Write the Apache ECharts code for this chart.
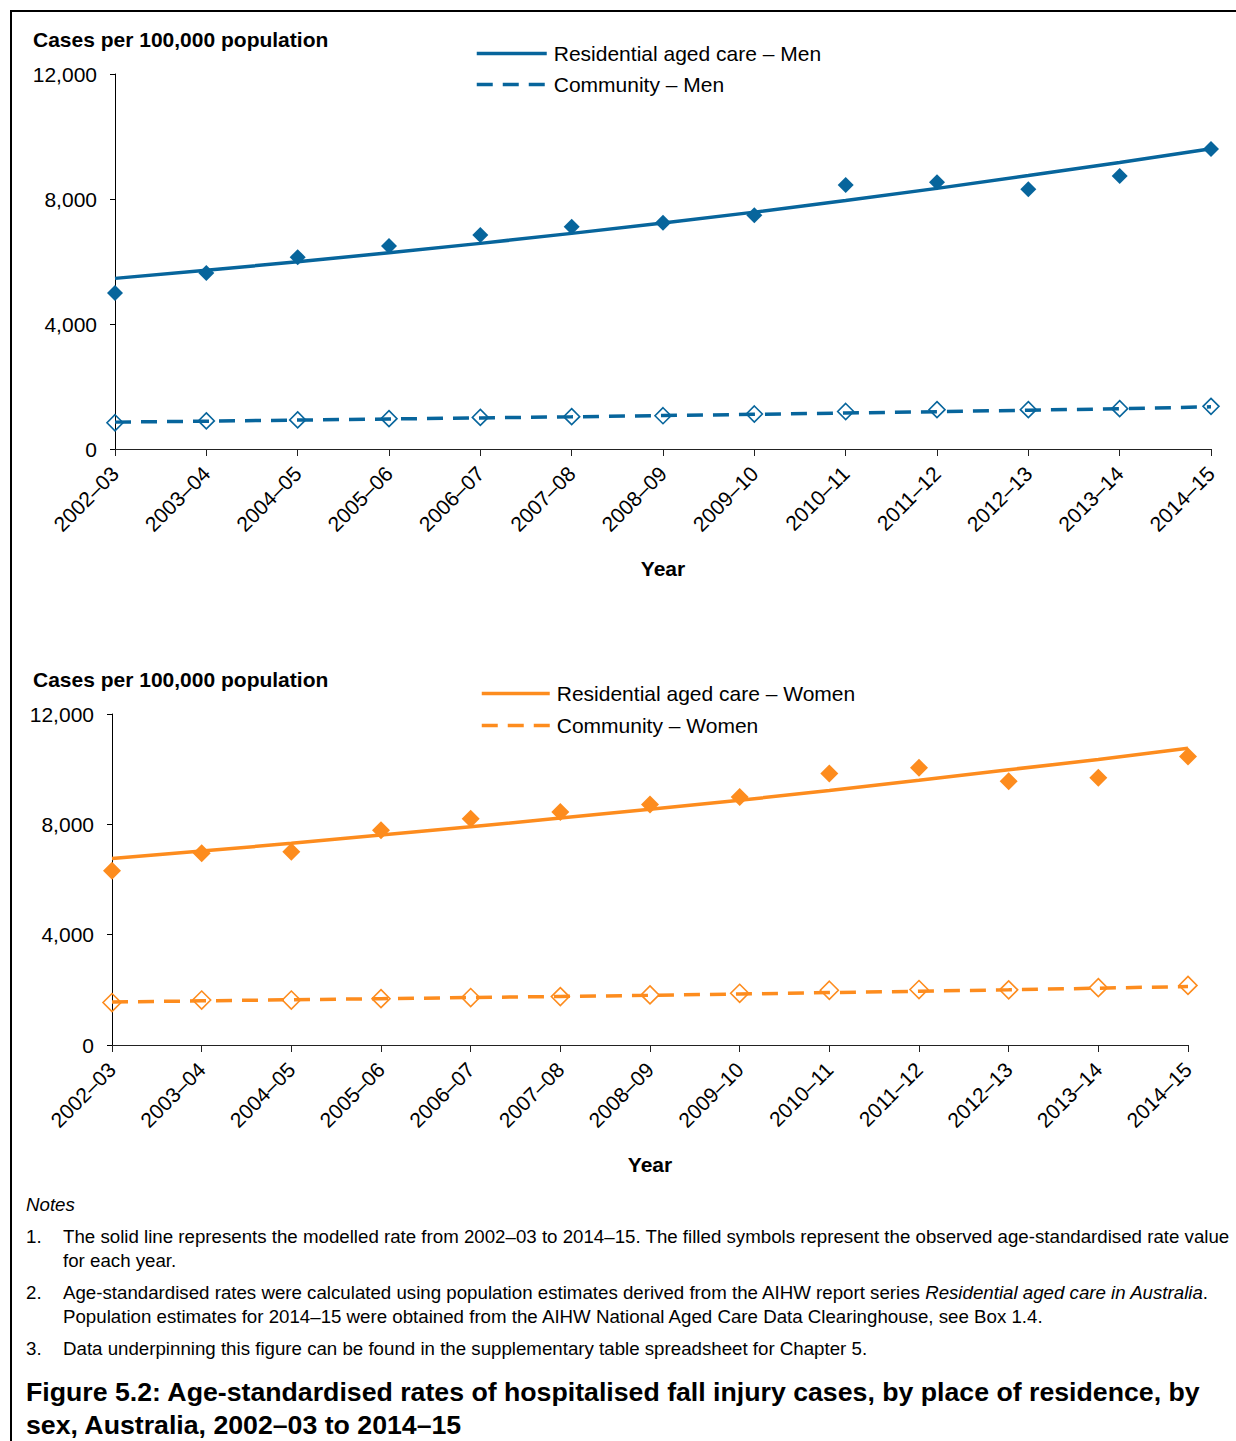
<!DOCTYPE html>
<html>
<head>
<meta charset="utf-8">
<script src="https://cdn.jsdelivr.net/npm/echarts@6/dist/echarts.min.js"></script>
<style>
  html, body { margin: 0; padding: 0; background: #fff; }
  body { width: 1236px; height: 1441px; position: relative; overflow: hidden; font-family: "Liberation Sans", Arial, sans-serif; color: #000; }
  #frame { position: absolute; left: 10px; top: 10px; width: 1240px; height: 1450px; border-left: 2px solid #000; border-top: 2px solid #000; }
  #chart { position: absolute; left: 0; top: 0; width: 1236px; height: 1190px; }
  .ln { position: absolute; white-space: nowrap; font-size: 18.7px; line-height: 20px; }
  .num { position: absolute; left: 26px; }
  .ttl { position: absolute; left: 26px; white-space: nowrap; font-weight: bold; font-size: 26.7px; line-height: 30px; }
</style>
</head>
<body>
<div id="frame"></div>
<div id="chart"></div>
<div class="ln" style="left:26px; top:1195px; font-style:italic;">Notes</div>
<div class="ln num" style="top:1227px;">1.</div>
<div class="ln" style="left:63px; top:1227px;">The solid line represents the modelled rate from 2002–03 to 2014–15. The filled symbols represent the observed age-standardised rate value</div>
<div class="ln" style="left:63px; top:1251px;">for each year.</div>
<div class="ln num" style="top:1283px;">2.</div>
<div class="ln" style="left:63px; top:1283px;">Age-standardised rates were calculated using population estimates derived from the AIHW report series <i>Residential aged care in Australia</i>.</div>
<div class="ln" style="left:63px; top:1307px;">Population estimates for 2014–15 were obtained from the AIHW National Aged Care Data Clearinghouse, see Box 1.4.</div>
<div class="ln num" style="top:1339px;">3.</div>
<div class="ln" style="left:63px; top:1339px;">Data underpinning this figure can be found in the supplementary table spreadsheet for Chapter 5.</div>
<div class="ttl" style="top:1377px;">Figure 5.2: Age-standardised rates of hospitalised fall injury cases, by place of residence, by</div>
<div class="ttl" style="top:1410px;">sex, Australia, 2002–03 to 2014–15</div>
<script>
const years = ['2002–03','2003–04','2004–05','2005–06','2006–07','2007–08','2008–09','2009–10','2010–11','2011–12','2012–13','2013–14','2014–15'];
const yTicks = [0, 4000, 8000, 12000];

const menResObserved = [4990, 5630, 6140, 6500, 6850, 7110, 7240, 7480, 8450, 8540, 8310, 8740, 9600];
const menResModelled = [5460, 5720, 5990, 6280, 6580, 6900, 7230, 7580, 7950, 8340, 8750, 9170, 9610];
const menComObserved = [840, 900, 930, 970, 1010, 1035, 1065, 1120, 1200, 1260, 1260, 1290, 1365];
const menComModelled = [860, 890, 925, 960, 995, 1030, 1070, 1110, 1150, 1195, 1240, 1290, 1350];

const womenResObserved = [6320, 6950, 7010, 7790, 8200, 8450, 8720, 8990, 9840, 10050, 9560, 9690, 10460];
const womenResModelled = [6760, 7030, 7310, 7610, 7910, 8230, 8550, 8870, 9230, 9600, 9980, 10350, 10760];
const womenComObserved = [1540, 1630, 1630, 1680, 1720, 1755, 1815, 1875, 1985, 2010, 2000, 2080, 2160];
const womenComModelled = [1560, 1600, 1640, 1680, 1720, 1760, 1800, 1850, 1900, 1950, 2000, 2060, 2120];

const BLUE = '#07659c';
const ORANGE = '#fd8c1e';
const FONT = 'Liberation Sans';

const chart = echarts.init(document.getElementById('chart'), null, { renderer: 'svg' });

function xAxisCfg(gi) {
  return {
    type: 'category', gridIndex: gi, data: years, boundaryGap: false,
    name: 'Year', nameLocation: 'middle', nameGap: 109,
    nameTextStyle: { fontFamily: FONT, fontSize: 21, fontWeight: 'bold', color: '#000' },
    axisLine: { lineStyle: { color: '#222', width: 1 } },
    axisTick: { show: true, length: 7, alignWithLabel: true, lineStyle: { color: '#222' } },
    axisLabel: { rotate: 45, fontFamily: FONT, fontSize: 21, color: '#000', margin: 21, interval: 0 },
    splitLine: { show: false }
  };
}
function yAxisCfg(gi) {
  return {
    type: 'value', gridIndex: gi, min: yTicks[0], max: yTicks[yTicks.length - 1], interval: 4000,
    axisLine: { show: true, lineStyle: { color: '#000', width: 1 } },
    axisTick: { show: true, length: 5, lineStyle: { color: '#000' } },
    axisLabel: { fontFamily: FONT, fontSize: 21, color: '#000', margin: 18,
      formatter: v => v.toLocaleString('en-US') },
    splitLine: { show: false }
  };
}
function seriesSet(gi, color, resName, comName, resMod, resObs, comMod, comObs, size) {
  return [
    { name: resName, type: 'line', xAxisIndex: gi, yAxisIndex: gi, data: resMod, symbol: 'none',
      lineStyle: { color: color, width: 3.5 }, itemStyle: { color: color }, z: 2, silent: true },
    { name: comName, type: 'line', xAxisIndex: gi, yAxisIndex: gi, data: comMod, symbol: 'none',
      lineStyle: { color: color, width: 3.5, type: [16, 10] }, itemStyle: { color: color }, z: 2, silent: true },
    { name: resName + ' observed', type: 'scatter', xAxisIndex: gi, yAxisIndex: gi, data: resObs,
      symbol: 'diamond', symbolSize: size, itemStyle: { color: color, opacity: 1 }, z: 3, silent: true },
    { name: comName + ' observed', type: 'scatter', xAxisIndex: gi, yAxisIndex: gi, data: comObs,
      symbol: 'diamond', symbolSize: size, itemStyle: { color: 'rgba(255,255,255,0)', borderColor: color, borderWidth: 1.6, opacity: 1 }, z: 1, silent: true }
  ];
}

chart.setOption({
  animation: false,
  grid: [
    { left: 115, top: 74, width: 1096, height: 375 },
    { left: 112, top: 714, width: 1076, height: 331 }
  ],
  xAxis: [xAxisCfg(0), xAxisCfg(1)],
  yAxis: [yAxisCfg(0), yAxisCfg(1)],
  legend: [
    { orient: 'vertical', left: 470, top: 38, itemWidth: 70, itemHeight: 14, itemGap: 10,
      data: ['Residential aged care – Men', 'Community – Men'], selectedMode: false,
      itemStyle: { opacity: 0 }, lineStyle: { width: 3.5 },
      textStyle: { fontFamily: FONT, fontSize: 21, color: '#000', lineHeight: 20, padding: [0, 0, 0, 2] } },
    { orient: 'vertical', left: 475, top: 678, itemWidth: 68, itemHeight: 14, itemGap: 11,
      data: ['Residential aged care – Women', 'Community – Women'], selectedMode: false,
      itemStyle: { opacity: 0 }, lineStyle: { width: 3.5 },
      textStyle: { fontFamily: FONT, fontSize: 21, color: '#000', lineHeight: 20, padding: [0, 0, 0, 2] } }
  ],
  graphic: [
    { type: 'text', left: 33, top: 29, style: { text: 'Cases per 100,000 population', fontFamily: FONT, fontSize: 21, fontWeight: 'bold', fill: '#000' } },
    { type: 'text', left: 33, top: 669, style: { text: 'Cases per 100,000 population', fontFamily: FONT, fontSize: 21, fontWeight: 'bold', fill: '#000' } }
  ],
  series: [
    ...seriesSet(0, BLUE, 'Residential aged care – Men', 'Community – Men', menResModelled, menResObserved, menComModelled, menComObserved, 16),
    ...seriesSet(1, ORANGE, 'Residential aged care – Women', 'Community – Women', womenResModelled, womenResObserved, womenComModelled, womenComObserved, 18)
  ]
});
</script>
</body>
</html>
